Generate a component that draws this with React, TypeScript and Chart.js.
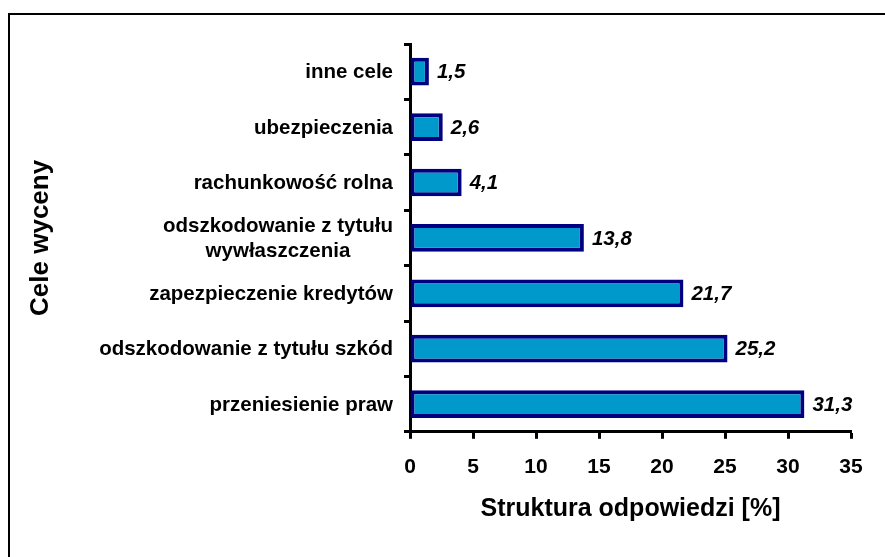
import React, { useEffect, useRef } from "react";
import { Chart, registerables } from "chart.js";

Chart.register(...registerables);

const categories: string[][] = [
  ["inne cele"],
  ["ubezpieczenia"],
  ["rachunkowość rolna"],
  ["odszkodowanie z tytułu", "wywłaszczenia"],
  ["zapezpieczenie kredytów"],
  ["odszkodowanie z tytułu szkód"],
  ["przeniesienie praw"],
];
const values: number[] = [1.5, 2.6, 4.1, 13.8, 21.7, 25.2, 31.3];
const xMin = 0;
const xMax = 35;
const xStep = 5;
const xTitle = "Struktura odpowiedzi [%]";
const yTitle = "Cele wyceny";

const FONT = "'Liberation Sans', Arial, sans-serif";

const valueLabelPlugin = {
  id: "valueLabels",
  afterDatasetsDraw(chart: any) {
    const ctx = chart.ctx;
    const meta = chart.getDatasetMeta(0);
    ctx.save();
    ctx.font = `italic bold 20.5px ${FONT}`;
    ctx.fillStyle = "#000";
    ctx.textAlign = "left";
    ctx.textBaseline = "middle";
    meta.data.forEach((el: any, i: number) => {
      const txt = String(values[i]).replace(".", ",");
      ctx.fillText(txt, el.x + 8, el.y + 1);
    });
    ctx.restore();
  },
};

const catLabelPlugin = {
  id: "catLabels",
  afterDraw(chart: any) {
    const ctx = chart.ctx;
    const ys = chart.scales.y;
    const right = chart.chartArea.left - 17;
    const lh = 25;
    ctx.save();
    ctx.font = `bold 20.5px ${FONT}`;
    ctx.fillStyle = "#000";
    ctx.textBaseline = "middle";
    ctx.textAlign = "center";
    categories.forEach((lines, i) => {
      const cy = ys.getPixelForValue(i);
      const w = Math.max(...lines.map((l) => ctx.measureText(l).width));
      const cx = right - w / 2;
      const y0 = cy - ((lines.length - 1) * lh) / 2 + 1;
      lines.forEach((l, j) => ctx.fillText(l, cx, y0 + j * lh));
    });
    ctx.restore();
  },
};

export default function App() {
  const ref = useRef<HTMLCanvasElement>(null);
  useEffect(() => {
    if (!ref.current) return;
    const chart = new Chart(ref.current, {
      type: "bar",
      data: {
        labels: categories.map((c) => c.join(" ")),
        datasets: [
          {
            data: values,
            backgroundColor: "#0099CC",
            borderColor: "#000080",
            borderWidth: 4,
            borderSkipped: false,
            categoryPercentage: 1,
            barPercentage: 0.5,
          },
        ],
      },
      options: {
        indexAxis: "y",
        animation: false,
        responsive: false,
        maintainAspectRatio: false,
        layout: { padding: { left: 25, right: 34, top: 44, bottom: 35 } },
        plugins: { legend: { display: false }, tooltip: { enabled: false } },
        scales: {
          x: {
            min: xMin,
            max: xMax,
            ticks: {
              stepSize: xStep,
              color: "#000",
              font: { family: FONT, size: 21, weight: "bold" },
              padding: 16,
            },
            grid: {
              drawOnChartArea: false,
              tickLength: 7,
              tickWidth: 3,
              tickColor: "#000",
            },
            border: { display: true, color: "#000", width: 3 },
            title: {
              display: true,
              text: xTitle,
              color: "#000",
              font: { family: FONT, size: 25, weight: "bold", lineHeight: 1.04 },
              padding: { top: 0, bottom: 0 },
            },
          },
          y: {
            ticks: { color: "rgba(0,0,0,0)", font: { family: FONT, size: 19 } },
            grid: {
              drawOnChartArea: false,
              tickLength: 6,
              tickWidth: 3,
              tickColor: "#000",
            },
            border: { display: true, color: "#000", width: 3 },
            title: {
              display: true,
              text: yTitle,
              color: "#000",
              font: { family: FONT, size: 26, weight: "bold" },
              padding: 0,
            },
            afterFit: (scale: any) => {
              scale.width = 385;
            },
          },
        },
      },
      plugins: [valueLabelPlugin, catLabelPlugin],
    });
    return () => chart.destroy();
  }, []);
  return (
    <div
      style={{
        position: "absolute",
        left: 0,
        top: 0,
        width: 885,
        height: 557,
        overflow: "hidden",
        background: "#fff",
      }}
    >
      <div
        style={{
          position: "absolute",
          left: 8,
          top: 13,
          width: 900,
          height: 600,
          border: "2px solid #000",
        }}
      />
      <canvas
        ref={ref}
        width={885}
        height={557}
        style={{ position: "absolute", left: 0, top: 0, width: 885, height: 557 }}
      />
    </div>
  );
}
